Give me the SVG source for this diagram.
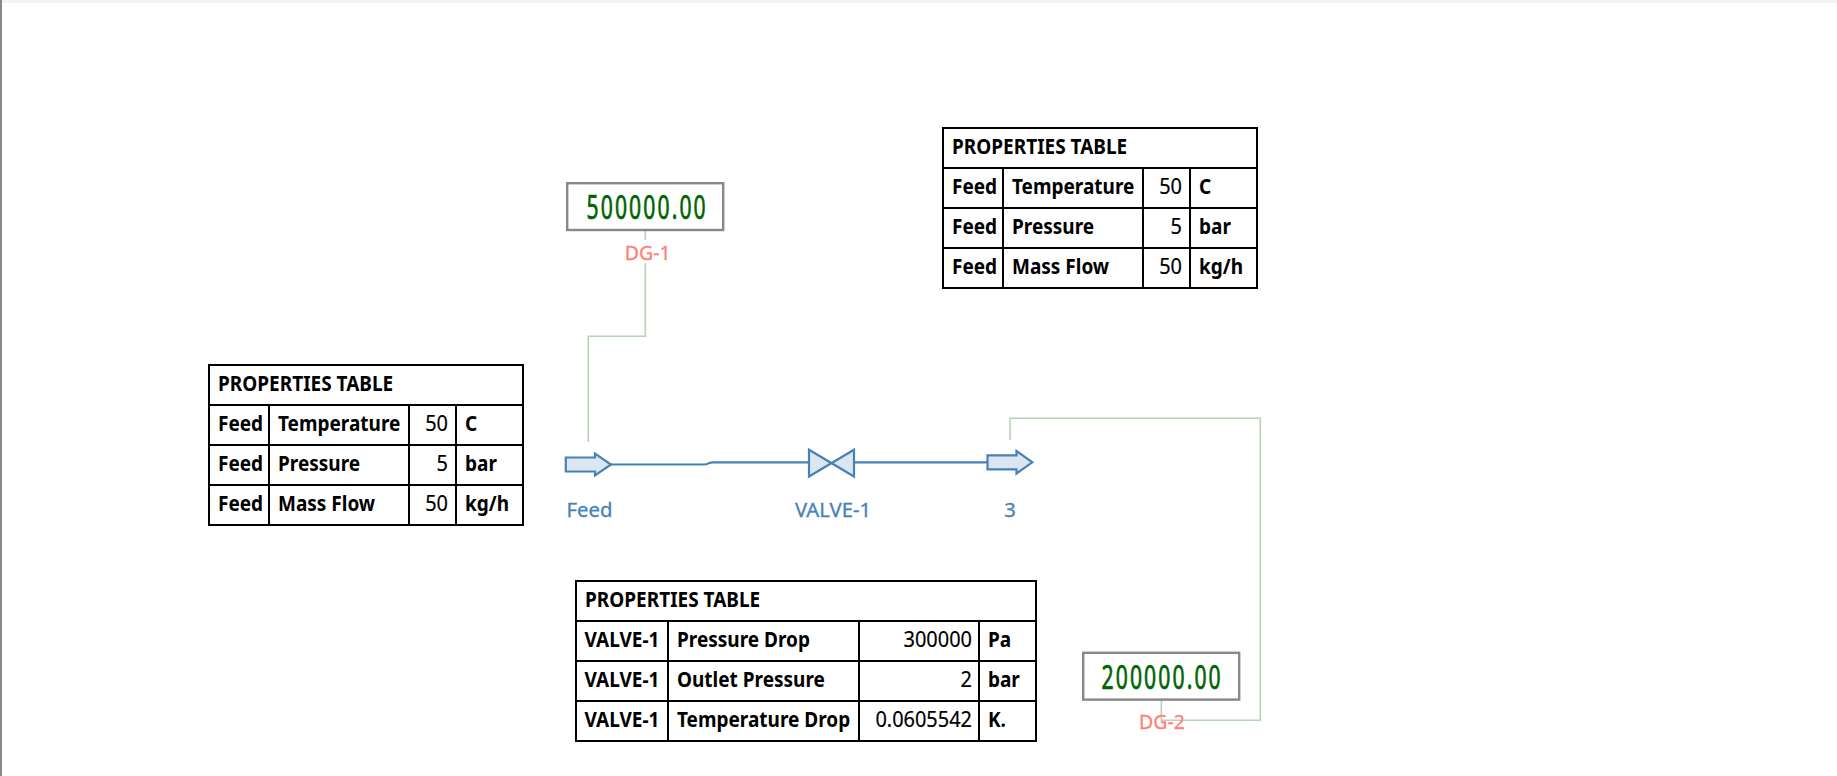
<svg xmlns="http://www.w3.org/2000/svg" width="1837" height="776" viewBox="0 0 1837 776">
<style>
.grid{fill:#fff;stroke:#000;stroke-width:2;shape-rendering:crispEdges}
.b{font:bold 21px "Noto Sans",sans-serif;fill:#000;transform-box:fill-box;transform-origin:0 0;transform:scaleX(.905)}
.v{font:21px "Noto Sans",sans-serif;fill:#000;text-anchor:end;stroke:#000;stroke-width:.2;transform-box:fill-box;transform-origin:100% 0;transform:scaleX(.95)}
.blue{fill:#dce6f1;stroke:#4682b4;stroke-width:2.2;stroke-linejoin:miter}
.pipe{fill:none;stroke:#4682b4;stroke-width:2.2}
.sig{fill:none;stroke:#b5d6b5;stroke-width:1.6}
.lab{font:20.300px "Noto Sans",sans-serif;fill:#4682b4;text-anchor:middle;stroke:#4682b4;stroke-width:.3}
.dl{font:19.500px "Noto Sans",sans-serif;fill:#ff8077;text-anchor:middle;stroke:#ff8077;stroke-width:.3}
.box{fill:#fff;stroke:#888;stroke-width:2.4}
.num{font:32px "Noto Sans",sans-serif;fill:#006400;stroke:#006400;stroke-width:.7;letter-spacing:3.200px}
</style>
<rect width="1837" height="776" fill="#fff"/>
<rect x="0" y="0" width="1837" height="3" fill="#f3f3f3"/>
<rect x="0" y="0" width="2" height="776" fill="#888"/>
<g id="connectors">
<path class="sig" d="M588.300 442V336.300H645.300V230"/>
<path class="sig" d="M1010 440V418.300H1260.300V720.300H1161.300V700"/>
<path class="pipe" d="M611 464.500H704C709 464.500 708 462.300 713 462.300H809"/>
<path class="pipe" d="M854 462.300H987"/>
</g>
<g id="dg1">
<rect class="box" x="567.200" y="183.200" width="156" height="46.800"/>
<text class="num" transform="translate(586.500 219) scale(.66 1)">500000.00</text>
<rect x="624" y="240" width="48" height="23" fill="#fff"/>
<text class="dl" x="647.700" y="259.500">DG-1</text>
</g>
<g id="dg2">
<rect class="box" x="1083.200" y="652.800" width="156" height="46.800"/>
<text class="num" transform="translate(1101.500 689) scale(.66 1)">200000.00</text>
<text class="dl" x="1162" y="729">DG-2</text>
</g>
<g id="feed">
<path class="blue" d="M565.800 457.500H595V453.500L611 464.500L595 475.500V471.500H565.800Z"/>
<text class="lab" x="589.500" y="517">Feed</text>
</g>
<g id="valve-1">
<path class="blue" d="M809 449.800L854 476.500V449.800L809 476.500Z"/>
<text class="lab" x="833" y="516.500">VALVE-1</text>
</g>
<g id="stream-3">
<path class="blue" d="M987.500 455.300H1016.500V451L1032.300 462.300L1016.500 473.500V469.300H987.500Z"/>
<text class="lab" x="1010" y="516.500">3</text>
</g>
<g id="table-feed-left" transform="translate(209 365)">
<rect class="grid" width="314" height="160"/>
<path class="grid" d="M0 40H314M0 80H314M0 120H314M60 40V160M200 40V160M247 40V160"/>
<text class="b" x="9" y="26">PROPERTIES TABLE</text>
<text class="b" x="9" y="66.500">Feed</text><text class="b" x="69" y="66.500">Temperature</text><text class="v" x="239" y="66.500">50</text><text class="b" x="256" y="66.500">C</text>
<text class="b" x="9" y="106.500">Feed</text><text class="b" x="69" y="106.500">Pressure</text><text class="v" x="239" y="106.500">5</text><text class="b" x="256" y="106.500">bar</text>
<text class="b" x="9" y="146.500">Feed</text><text class="b" x="69" y="146.500">Mass Flow</text><text class="v" x="239" y="146.500">50</text><text class="b" x="256" y="146.500">kg/h</text>
</g>
<g id="table-feed-top" transform="translate(943 128)">
<rect class="grid" width="314" height="160"/>
<path class="grid" d="M0 40H314M0 80H314M0 120H314M60 40V160M200 40V160M247 40V160"/>
<text class="b" x="9" y="26">PROPERTIES TABLE</text>
<text class="b" x="9" y="66.500">Feed</text><text class="b" x="69" y="66.500">Temperature</text><text class="v" x="239" y="66.500">50</text><text class="b" x="256" y="66.500">C</text>
<text class="b" x="9" y="106.500">Feed</text><text class="b" x="69" y="106.500">Pressure</text><text class="v" x="239" y="106.500">5</text><text class="b" x="256" y="106.500">bar</text>
<text class="b" x="9" y="146.500">Feed</text><text class="b" x="69" y="146.500">Mass Flow</text><text class="v" x="239" y="146.500">50</text><text class="b" x="256" y="146.500">kg/h</text>
</g>
<g id="table-valve" transform="translate(576 581)">
<rect class="grid" width="460" height="160"/>
<path class="grid" d="M0 40H460M0 80H460M0 120H460M92 40V160M283 40V160M403 40V160"/>
<text class="b" x="9" y="26">PROPERTIES TABLE</text>
<text class="b" x="8.500" y="66.500">VALVE-1</text><text class="b" x="101" y="66.500">Pressure Drop</text><text class="v" x="396" y="66.500">300000</text><text class="b" x="412" y="66.500">Pa</text>
<text class="b" x="8.500" y="106.500">VALVE-1</text><text class="b" x="101" y="106.500">Outlet Pressure</text><text class="v" x="396" y="106.500">2</text><text class="b" x="412" y="106.500">bar</text>
<text class="b" x="8.500" y="146.500">VALVE-1</text><text class="b" x="101" y="146.500">Temperature Drop</text><text class="v" x="396" y="146.500">0.0605542</text><text class="b" x="412" y="146.500">K.</text>
</g>
</svg>
